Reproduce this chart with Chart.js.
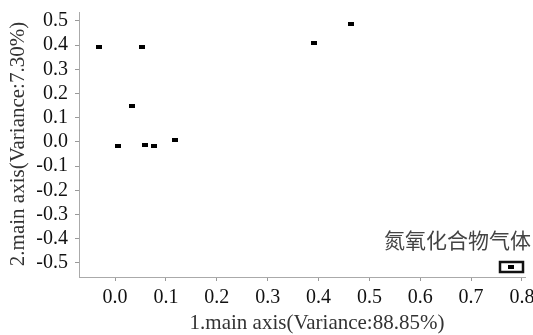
<!DOCTYPE html>
<html>
<head>
<meta charset="utf-8">
<script src="https://cdn.jsdelivr.net/npm/chart.js@4"></script>
<style>
  html, body { margin: 0; padding: 0; background: #fff; }
  #wrap { width: 533px; height: 335px; }
</style>
</head>
<body>
<div id="wrap"><canvas id="chart" width="533" height="335"></canvas></div>
<script>
// Scores on the two main axes
const axis1Scores = [-0.032, 0.052, 0.033, 0.005, 0.059, 0.076, 0.117, 0.391, 0.463];
const axis2Scores = [0.394, 0.393, 0.148, -0.015, -0.011, -0.017, 0.007, 0.408, 0.488];
const seriesName = '氮氧化合物气体';

const xTicks = [0.0, 0.1, 0.2, 0.3, 0.4, 0.5, 0.6, 0.7, 0.8];
const yTicks = [0.5, 0.4, 0.3, 0.2, 0.1, 0.0, -0.1, -0.2, -0.3, -0.4, -0.5];
const xTitle = '1.main axis(Variance:88.85%)';
const yTitle = '2.main axis(Variance:7.30%)';

const points = axis1Scores.map((x, i) => ({ x: x, y: axis2Scores[i] }));

// small black dash used as marker
function makeMarker() {
    const c = document.createElement('canvas');
    c.width = 6;
    c.height = 4;
    const g = c.getContext('2d');
    g.fillStyle = '#000';
    g.fillRect(0, 0, 6, 4);
    return c;
}
const marker = makeMarker();

// axis titles + legend box drawn by hand
const decorations = {
    id: 'decorations',
    afterDraw(chart) {
        const ctx = chart.ctx;
        ctx.save();
        ctx.fillStyle = '#333';
        ctx.font = '21px "Liberation Serif"';
        ctx.textAlign = 'center';
        ctx.textBaseline = 'middle';
        ctx.fillText(xTitle, 317, 323);

        ctx.translate(18, 144);
        ctx.rotate(-Math.PI / 2);
        ctx.fillText(yTitle, 0, 0);
        ctx.restore();

        // legend
        ctx.save();
        ctx.fillStyle = '#444';
        ctx.font = '21px "Noto Sans CJK SC"';
        ctx.textAlign = 'right';
        ctx.textBaseline = 'middle';
        ctx.fillText(seriesName, 531, 240);
        ctx.strokeStyle = '#111';
        ctx.lineWidth = 2.5;
        ctx.strokeRect(500, 262, 23, 10);
        ctx.drawImage(marker, 508, 265);
        ctx.restore();
    }
};

new Chart(document.getElementById('chart'), {
    type: 'scatter',
    data: {
        datasets: [{
            label: seriesName,
            data: points,
            pointStyle: marker,
            pointRadius: 3,
            pointHoverRadius: 3
        }]
    },
    options: {
        responsive: false,
        animation: false,
        layout: { padding: { top: 12, right: 8, left: 0, bottom: 0 } },
        plugins: {
            legend: { display: false },
            tooltip: { enabled: false }
        },
        scales: {
            x: {
                type: 'linear',
                min: -0.071,
                max: 0.806,
                afterBuildTicks: s => { s.ticks = xTicks.map(v => ({ value: v })); },
                afterFit: s => {
                    s.height = 58;
                    s.paddingLeft = 0;
                    s.paddingRight = 0;
                },
                border: { color: '#aaa', width: 1 },
                grid: { drawOnChartArea: false, tickLength: 4, color: '#999' },
                ticks: {
                    color: '#111',
                    padding: 5,
                    maxRotation: 0,
                    autoSkip: false,
                    font: { family: 'Liberation Serif', size: 20 },
                    callback: v => v.toFixed(1)
                }
            },
            y: {
                type: 'linear',
                min: -0.558,
                max: 0.537,
                afterBuildTicks: s => { s.ticks = yTicks.map(v => ({ value: v })); },
                afterFit: s => {
                    s.width = 79;
                    s.paddingTop = 0;
                    s.paddingBottom = 0;
                },
                border: { color: '#aaa', width: 1 },
                grid: { drawOnChartArea: false, tickLength: 4, color: '#999' },
                ticks: {
                    color: '#111',
                    padding: 7,
                    autoSkip: false,
                    font: { family: 'Liberation Serif', size: 20 },
                    callback: v => v.toFixed(1)
                }
            }
        }
    },
    plugins: [decorations]
});
</script>
</body>
</html>
